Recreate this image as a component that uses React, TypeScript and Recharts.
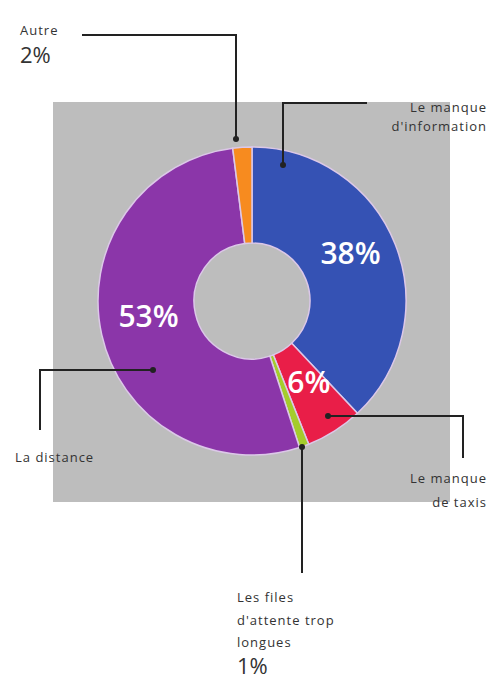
import { Cell, Pie, PieChart } from "recharts";

const categories = [
  "Le manque d'information",
  "Le manque de taxis",
  "Les files d'attente trop longues",
  "La distance",
  "Autre"
];
const shares = [38, 6, 1, 53, 2];
const colors = ["#3552b4", "#e91e48", "#a4cc2c", "#8b36a9", "#f78b1f"];
// slices wide enough to carry their value inside
const insideLabels = [true, true, false, true, false];

const data = categories.map((name, i) => ({ name, value: shares[i] }));

const FONT = "'Open Sans', 'DejaVu Sans', sans-serif";
const INK = "#222";

type Callout = {
  index: number;
  path: string;
  dot: [number, number];
  anchor: "start" | "end";
  x: number;
  lines: Array<[string, number]>;
  pctY?: number;
};

const callouts: Callout[] = [
  { index: 4, path: "M82,35 H236 V139", dot: [236, 139], anchor: "start", x: 20, lines: [["Autre", 35]], pctY: 63 },
  { index: 0, path: "M367,103 H283 V165", dot: [283, 165], anchor: "end", x: 487, lines: [["Le manque", 112], ["d'information", 131]] },
  { index: 3, path: "M153,370 H40 V430", dot: [153, 370], anchor: "start", x: 15, lines: [["La distance", 462]] },
  { index: 1, path: "M328,416 H463 V458", dot: [328, 416], anchor: "end", x: 487, lines: [["Le manque", 483], ["de taxis", 507]] },
  { index: 2, path: "M302,447 V573", dot: [302, 447], anchor: "start", x: 237, lines: [["Les files", 602], ["d'attente trop", 625], ["longues", 647]], pctY: 674 }
];

const RADIAN = Math.PI / 180;

function SliceLabel(props: any) {
  const { cx, cy, midAngle, innerRadius, outerRadius, index, value } = props;
  if (!insideLabels[index]) return null;
  const r = (innerRadius + outerRadius) / 2;
  const x = cx + r * Math.cos(-midAngle * RADIAN);
  const y = cy + r * Math.sin(-midAngle * RADIAN) - 9;
  return (
    <text
      x={x}
      y={y}
      fill="#fff"
      textAnchor="middle"
      dominantBaseline="central"
      fontFamily={FONT}
      fontWeight={600}
      fontSize={30}
    >
      {`${value}%`}
    </text>
  );
}

function Callouts() {
  return (
    <svg
      width={489}
      height={680}
      style={{ position: "absolute", left: 0, top: 0, pointerEvents: "none" }}
    >
      {callouts.map((c) => (
        <g key={c.index}>
          <path d={c.path} stroke={INK} strokeWidth={2} fill="none" />
          <circle cx={c.dot[0]} cy={c.dot[1]} r={3} fill={INK} />
          {c.lines.map(([t, y]) => (
            <text
              key={t}
              x={c.x}
              y={y}
              textAnchor={c.anchor}
              fontFamily={FONT}
              fontSize={13}
              letterSpacing={1}
              fill="#333"
            >
              {t}
            </text>
          ))}
          {c.pctY !== undefined && (
            <text x={c.x} y={c.pctY} fontFamily={FONT} fontSize={22} fill="#333">
              {`${shares[c.index]}%`}
            </text>
          )}
        </g>
      ))}
    </svg>
  );
}

export default function App() {
  return (
    <div style={{ position: "absolute", left: 0, top: 0, width: 489, height: 680, background: "#fff" }}>
      <div
        style={{ position: "absolute", left: 53, top: 102, width: 397, height: 400, background: "#bdbdbd" }}
      />
      <div style={{ position: "absolute", left: 0, top: 0 }}>
        <PieChart width={489} height={680} margin={{ top: 0, right: 0, bottom: 0, left: 0 }}>
          <Pie
            data={data}
            dataKey="value"
            nameKey="name"
            cx={252}
            cy={301}
            innerRadius={58}
            outerRadius={154}
            startAngle={90}
            endAngle={-270}
            stroke="#dcc8e8"
            strokeWidth={1.5}
            label={SliceLabel}
            labelLine={false}
            isAnimationActive={false}
          >
            {data.map((d, i) => (
              <Cell key={d.name} fill={colors[i]} />
            ))}
          </Pie>
        </PieChart>
      </div>
      <Callouts />
    </div>
  );
}
